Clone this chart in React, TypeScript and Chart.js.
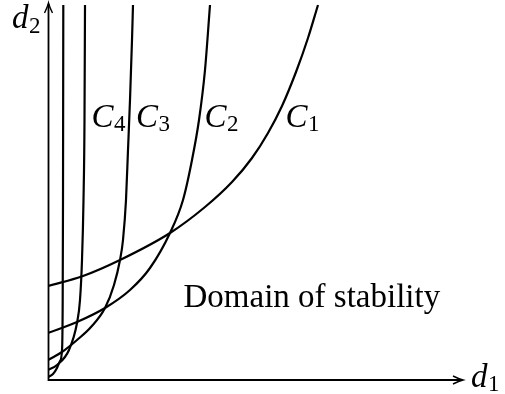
import React, { useEffect, useRef } from "react";
import { Chart, registerables } from "chart.js";

Chart.register(...registerables);

// Curve samples (d1, d2) in plot units (origin at the axes' corner)
const c1X = [0, 35, 72, 122, 157, 184, 204, 220, 234, 248, 260, 270];
const c1Y = [94, 104, 120, 147, 173, 198, 222, 247, 274, 308, 342, 375];
const c2X = [0, 29, 57, 82, 102, 122, 135, 144, 151, 157, 162];
const c2Y = [47, 58, 72, 90, 112, 147, 180, 220, 260, 310, 375];
const c3X = [0, 14, 29, 43, 57, 66, 72, 75, 78, 80, 82, 84, 85];
const c3Y = [20, 28, 40, 53, 72, 95, 120, 140, 180, 230, 280, 340, 375];
const c4X = [0, 9, 21, 29, 32, 34, 35.5, 36.5, 37];
const c4Y = [10, 15, 30, 57, 80, 120, 180, 260, 375];
const c5X = [0, 5, 9, 12, 14, 14.7, 15, 15.3];
const c5Y = [3, 6, 12, 19, 30, 80, 180, 375];

const X_MAX = 415;
const Y_MAX = 376;

// Curve labels
const curveNames = ["C", "C", "C", "C"];
const curveSubs = ["1", "2", "3", "4"];
const curveLabelX = [237.5, 156.5, 88, 43.5];
const curveLabelY = [253, 253, 253, 253];

const regionText = "Domain of stability";
const regionX = 135.5;
const regionY = 73.5;

const axisNames = ["d", "d"];
const axisSubs = ["1", "2"];
const axisLabelX = [423, -36];
const axisLabelY = [-6.5, 351.7];

const toPts = (xs: number[], ys: number[]) => xs.map((v, i) => ({ x: v, y: ys[i] }));

const MAIN = 'italic 33px "Liberation Serif"';
const SUB = '23px "Liberation Serif"';

function drawSym(ctx: CanvasRenderingContext2D, name: string, sub: string, px: number, py: number, subDrop: number) {
  ctx.font = MAIN;
  ctx.fillText(name, px, py);
  const w = ctx.measureText(name).width;
  ctx.font = SUB;
  ctx.fillText(sub, px + w + 0.5, py + subDrop);
}

const decor = {
  id: "decor",
  afterDatasetsDraw(chart: any) {
    const { ctx, scales } = chart;
    const X = (v: number) => scales.x.getPixelForValue(v);
    const Y = (v: number) => scales.y.getPixelForValue(v);
    ctx.save();
    ctx.strokeStyle = "#000";
    ctx.fillStyle = "#000";
    ctx.lineWidth = 1.8;
    const ox = X(0) + 0.5;
    const oy = Y(0);
    const tx = X(X_MAX);
    const ty = Y(Y_MAX) - 1;
    ctx.beginPath();
    ctx.moveTo(ox - 0.9, oy);
    ctx.lineTo(tx - 1, oy);
    ctx.moveTo(ox, oy + 0.9);
    ctx.lineTo(ox, ty + 1);
    ctx.stroke();
    // arrow heads (LaTeX-like)
    ctx.lineWidth = 1.4;
    ctx.beginPath();
    ctx.moveTo(tx - 10, oy - 4);
    ctx.quadraticCurveTo(tx - 4, oy - 1, tx, oy);
    ctx.quadraticCurveTo(tx - 4, oy + 1, tx - 10, oy + 4);
    ctx.moveTo(ox - 4, ty + 10);
    ctx.quadraticCurveTo(ox - 1, ty + 4, ox, ty);
    ctx.quadraticCurveTo(ox + 1, ty + 4, ox + 4, ty + 10);
    ctx.stroke();

    ctx.textBaseline = "alphabetic";
    ctx.textAlign = "left";
    for (let i = 0; i < curveNames.length; i++) {
      drawSym(ctx, curveNames[i], curveSubs[i], X(curveLabelX[i]), Y(curveLabelY[i]), 4);
    }
    for (let i = 0; i < axisNames.length; i++) {
      drawSym(ctx, axisNames[i], axisSubs[i], X(axisLabelX[i]), Y(axisLabelY[i]), 4.5);
    }
    ctx.font = '33px "Liberation Serif"';
    ctx.fillText(regionText, X(regionX), Y(regionY));
    ctx.restore();
  },
};

export default function App() {
  const ref = useRef<HTMLCanvasElement | null>(null);
  useEffect(() => {
    if (!ref.current) return;
    const ds = (xs: number[], ys: number[]) => ({
      data: toPts(xs, ys),
      showLine: true,
      borderColor: "#000",
      borderWidth: 2.2,
      pointRadius: 0,
      cubicInterpolationMode: "monotone" as const,
      fill: false,
    });
    const chart = new Chart(ref.current, {
      type: "scatter",
      data: {
        datasets: [ds(c1X, c1Y), ds(c2X, c2Y), ds(c3X, c3Y), ds(c4X, c4Y), ds(c5X, c5Y)],
      },
      options: {
        animation: false,
        responsive: false,
        devicePixelRatio: 1,
        layout: { padding: { left: 48, right: 42, top: 4, bottom: 14 } },
        plugins: { legend: { display: false }, tooltip: { enabled: false } },
        scales: {
          x: { type: "linear", min: 0, max: X_MAX, display: false },
          y: { type: "linear", min: 0, max: Y_MAX, display: false },
        },
      },
      plugins: [decor],
    });
    return () => chart.destroy();
  }, []);
  return (
    <div style={{ position: "absolute", left: 0, top: 0, width: 505, height: 394, background: "#fff" }}>
      <canvas ref={ref} width={505} height={394} />
    </div>
  );
}
